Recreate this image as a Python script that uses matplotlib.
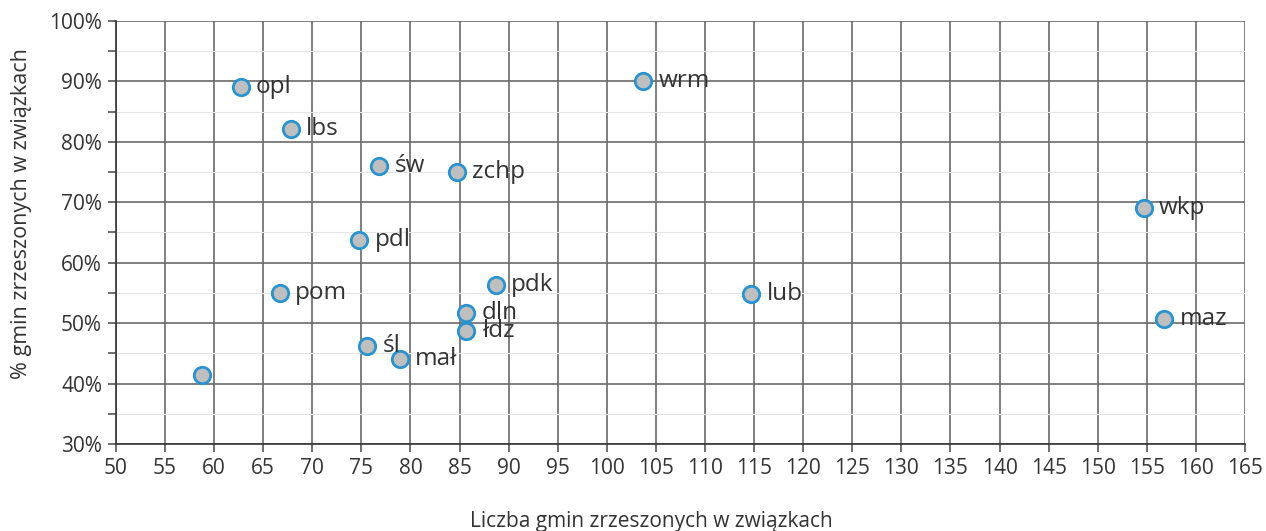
import matplotlib
matplotlib.use("Agg")
import matplotlib.pyplot as plt
from matplotlib.ticker import MultipleLocator, FuncFormatter

plt.rcParams['font.family'] = ['Open Sans', 'DejaVu Sans']

labels = ["", "opl", "lbs", "pom", "św", "pdl", "śl", "mał", "zchp", "dln", "łdz", "pdk", "wrm", "lub", "wkp", "maz"]
x_vals = [58.8, 62.7, 67.8, 66.7, 76.8, 74.8, 75.6, 78.9, 84.7, 85.7, 85.7, 88.7, 103.7, 114.7, 154.7, 156.8]
y_vals = [41.5, 89.1, 82.2, 55.0, 76.0, 63.7, 46.2, 44.0, 75.0, 51.7, 48.7, 56.3, 90.0, 54.8, 69.1, 50.7]

fig = plt.figure(figsize=(12.66, 5.31), dpi=100)
ax = fig.add_axes([0.0916, 0.1638, 0.8918, 0.7967])

ax.set_xlim(50, 165)
ax.set_ylim(30, 100)
ax.xaxis.set_major_locator(MultipleLocator(5))
ax.yaxis.set_major_locator(MultipleLocator(10))
ax.yaxis.set_minor_locator(MultipleLocator(5))
ax.yaxis.set_major_formatter(FuncFormatter(lambda v, p: f"{int(round(v))}%"))

ax.grid(True, which='major', color='#6a6a6a', linewidth=1.2)
ax.grid(True, which='minor', axis='y', color='#e6e6e6', linewidth=0.8)
ax.set_axisbelow(True)

for s in ['top', 'right']:
    ax.spines[s].set_visible(False)
for s in ['left', 'bottom']:
    ax.spines[s].set_color('#333333')
    ax.spines[s].set_linewidth(1.2)

ax.tick_params(axis='both', which='major', length=6, width=1.2, color='#555555',
               labelsize=15, labelcolor='#333333', pad=4)
ax.tick_params(axis='y', which='minor', length=6, width=1.2, color='#555555')

ax.scatter(x_vals, y_vals, s=140, facecolor='#bfbfbf', edgecolor='#2a93cf',
           linewidth=2.0, zorder=3)

for lx, ly, lab in zip(x_vals, y_vals, labels):
    if lab:
        ax.annotate(lab, (lx, ly), xytext=(11, 0), textcoords='offset points',
                    va='center', ha='left', fontsize=17.5, color='#333333', zorder=4)

fig.text(651 / 1266, 1 - 521 / 531, "Liczba gmin zrzeszonych w związkach",
         fontsize=15, color='#333333', ha='center', va='center')
fig.text(22 / 1266, 1 - 214 / 531, "% gmin zrzeszonych w związkach",
         fontsize=15.5, color='#333333', ha='center', va='center', rotation=90)

fig.savefig("out.png", dpi=100)
